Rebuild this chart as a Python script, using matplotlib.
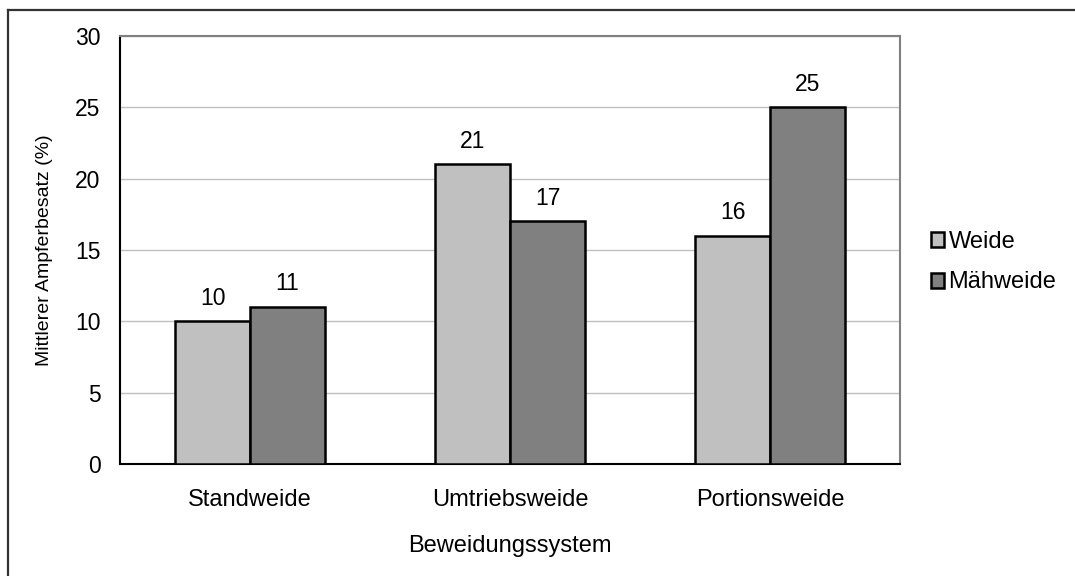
import numpy as np
import matplotlib
matplotlib.use('Agg')
import matplotlib.pyplot as plt
from matplotlib.lines import Line2D
from matplotlib.patches import Patch

plt.rcParams['font.family'] = ['Liberation Sans', 'DejaVu Sans']

# data
systems = ['Standweide', 'Umtriebsweide', 'Portionsweide']
weide = [10, 21, 16]
maehweide = [11, 17, 25]
series_names = ['Weide', 'Mähweide']
colors = ['#C0C0C0', '#808080']

fig = plt.figure(figsize=(10.75, 5.76), dpi=100)
ax = fig.add_axes([120 / 1075, 1 - 464 / 576, 780 / 1075, 428 / 576])

x = np.arange(len(systems))
w = 0.288
b1 = ax.bar(x - w / 2, weide, w, color=colors[0], edgecolor='black', linewidth=1.8, zorder=3)
b2 = ax.bar(x + w / 2, maehweide, w, color=colors[1], edgecolor='black', linewidth=1.8, zorder=3)
ax.bar_label(b1, padding=8.5, fontsize=16.5)
ax.bar_label(b2, padding=8.5, fontsize=16.5)

ax.set_xlim(-0.5, 2.5)
ax.set_ylim(0, 30)
ax.set_yticks(range(0, 31, 5))
ax.set_xticks(x)
ax.set_xticklabels(systems, fontsize=17)
ax.tick_params(axis='both', length=0)
ax.tick_params(axis='y', labelsize=16.5, pad=14)
ax.tick_params(axis='x', pad=18)
ax.yaxis.grid(True, color='#C0C0C0', linewidth=1, zorder=0)
ax.set_axisbelow(True)

for s in ['left', 'bottom']:
    ax.spines[s].set_color('black')
    ax.spines[s].set_linewidth(1.5)
for s in ['top', 'right']:
    ax.spines[s].set_color('#808080')
    ax.spines[s].set_linewidth(1.5)

ax.set_xlabel('Beweidungssystem', fontsize=17, labelpad=17)
ax.set_ylabel('Mittlerer Ampferbesatz (%)', fontsize=14, labelpad=16)

handles = [Patch(facecolor=c, edgecolor='black', linewidth=1.8) for c in colors]
fig.legend(handles, series_names, loc='center left', bbox_to_anchor=(919 / 1075, 1 - 262 / 576),
           frameon=False, fontsize=17, handlelength=0.55, handleheight=0.6,
           handletextpad=0.2, labelspacing=0.8, borderpad=0)

# outer chart border (only top and left visible in the reference)
fig.add_artist(Line2D([8 / 1075, 1.0], [1 - 10 / 576, 1 - 10 / 576], color='#333333', linewidth=1.6))
fig.add_artist(Line2D([8 / 1075, 8 / 1075], [0.0, 1 - 10 / 576], color='#333333', linewidth=1.6))

fig.savefig('out.png', dpi=100)
